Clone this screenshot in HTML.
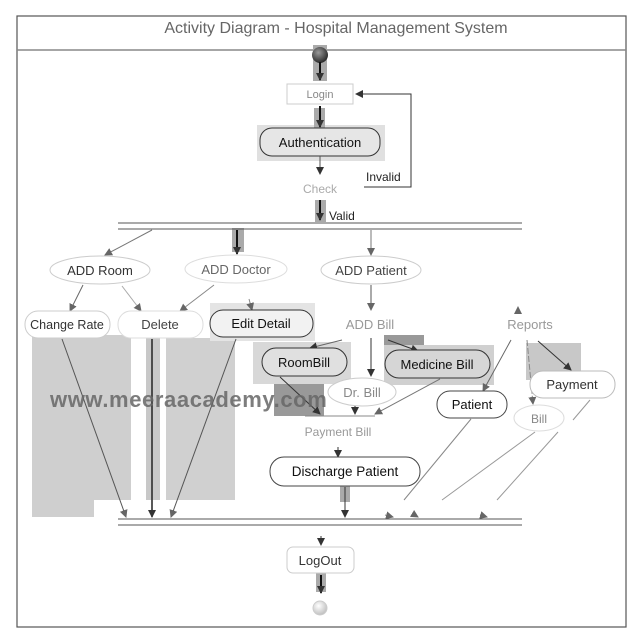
<!DOCTYPE html>
<html><head><meta charset="utf-8"><style>
html,body{margin:0;padding:0;background:#fff;}
svg{display:block;}
text{font-family:"Liberation Sans",sans-serif;}
</style></head><body>
<svg width="640" height="640" viewBox="0 0 640 640" xmlns="http://www.w3.org/2000/svg">
<defs>
<marker id="a" markerWidth="8" markerHeight="8" refX="7" refY="4" orient="auto" markerUnits="userSpaceOnUse"><path d="M0,0 L8,4 L0,8 z" fill="#333"/></marker>
<marker id="b" markerWidth="8" markerHeight="8" refX="7" refY="4" orient="auto" markerUnits="userSpaceOnUse"><path d="M0,0 L8,4 L0,8 z" fill="#666"/></marker>
<radialGradient id="g1" cx="0.4" cy="0.35" r="0.7"><stop offset="0" stop-color="#999"/><stop offset="1" stop-color="#222"/></radialGradient>
<radialGradient id="g2" cx="0.4" cy="0.35" r="0.7"><stop offset="0" stop-color="#fff"/><stop offset="1" stop-color="#bbb"/></radialGradient>
</defs>
<rect x="17" y="16" width="609" height="611" fill="#fff" stroke="#555" stroke-width="1.2"/>
<line x1="17" y1="50" x2="626" y2="50" stroke="#888" stroke-width="1.5"/>
<text x="336" y="33" font-size="16" fill="#666" text-anchor="middle" font-family="DejaVu Sans">Activity Diagram - Hospital Management System</text>

<path d="M32 335 H131 V500 H94 V517 H32 Z" fill="#cfcfcf"/>
<rect x="146" y="335" width="14" height="165" fill="#c8c8c8"/>
<rect x="166" y="338" width="69" height="162" fill="#d0d0d0"/>
<rect x="253" y="342" width="98" height="42" fill="#d8d8d8"/>
<rect x="274" y="384" width="50" height="32" fill="#999"/>
<rect x="384" y="335" width="40" height="12" fill="#999"/>
<rect x="384" y="345" width="110" height="40" fill="#d0d0d0"/>
<rect x="526" y="343" width="55" height="37" fill="#c8c8c8"/>
<rect x="210" y="303" width="105" height="38" fill="#e4e4e4"/>
<rect x="257" y="125" width="128" height="36" fill="#e0e0e0"/>
<rect x="313" y="45" width="14" height="36" fill="#aaa"/>
<rect x="314" y="108" width="11" height="22" fill="#aaa"/>
<rect x="315" y="200" width="11" height="22" fill="#aaa"/>
<rect x="232" y="228" width="12" height="24" fill="#aaa"/>
<rect x="340" y="484" width="10" height="18" fill="#aaa"/>
<rect x="316" y="572" width="10" height="20" fill="#aaa"/>

<circle cx="320" cy="55" r="8" fill="url(#g1)"/>
<line x1="320" y1="62" x2="320" y2="80" stroke="#111" stroke-width="2" marker-end="url(#a)"/>
<rect x="287" y="84" width="66" height="20" fill="#fff" stroke="#ccc"/>
<text x="320" y="98" font-size="11" fill="#888" text-anchor="middle">Login</text>
<line x1="320" y1="106" x2="320" y2="127" stroke="#111" stroke-width="2" marker-end="url(#a)"/>
<rect x="260" y="128" width="120" height="28" rx="12" fill="#e6e6e6" stroke="#333"/>
<text x="320" y="147" font-size="13" fill="#111" text-anchor="middle">Authentication</text>
<line x1="320" y1="156" x2="320" y2="174" stroke="#555" marker-end="url(#a)"/>
<text x="320" y="193" font-size="12" fill="#aaa" text-anchor="middle">Check</text>
<text x="366" y="181" font-size="12" fill="#222">Invalid</text>
<polyline points="364,187 411,187 411,94 356,94" fill="none" stroke="#333" marker-end="url(#a)"/>
<line x1="320" y1="200" x2="320" y2="220" stroke="#111" stroke-width="2" marker-end="url(#a)"/>
<text x="329" y="220" font-size="12" fill="#222">Valid</text>
<line x1="118" y1="223" x2="522" y2="223" stroke="#555"/>
<line x1="118" y1="229" x2="522" y2="229" stroke="#555"/>

<line x1="152" y1="230" x2="105" y2="255" stroke="#777" marker-end="url(#b)"/>
<line x1="237" y1="230" x2="237" y2="254" stroke="#111" stroke-width="2" marker-end="url(#a)"/>
<line x1="371" y1="230" x2="371" y2="255" stroke="#777" marker-end="url(#b)"/>

<ellipse cx="100" cy="270" rx="50" ry="14" fill="#fff" stroke="#ccc"/>
<text x="100" y="275" font-size="13" fill="#333" text-anchor="middle">ADD Room</text>
<ellipse cx="236" cy="269" rx="51" ry="14" fill="#fff" stroke="#ddd"/>
<text x="236" y="274" font-size="13" fill="#666" text-anchor="middle">ADD Doctor</text>
<ellipse cx="371" cy="270" rx="50" ry="14" fill="#fff" stroke="#ccc"/>
<text x="371" y="275" font-size="13" fill="#444" text-anchor="middle">ADD Patient</text>

<line x1="83" y1="285" x2="70" y2="311" stroke="#666" marker-end="url(#b)"/>
<line x1="122" y1="286" x2="141" y2="311" stroke="#aaa" marker-end="url(#b)"/>
<line x1="214" y1="285" x2="180" y2="311" stroke="#888" marker-end="url(#b)"/>
<line x1="249" y1="299" x2="252" y2="310" stroke="#888" marker-end="url(#b)"/>
<line x1="371" y1="285" x2="371" y2="310" stroke="#555" marker-end="url(#b)"/>
<line x1="518" y1="310" x2="518" y2="307" stroke="#888" marker-end="url(#b)"/>

<rect x="25" y="311" width="85" height="27" rx="13" fill="#fff" stroke="#ccc"/>
<text x="67" y="329" font-size="12.5" fill="#333" text-anchor="middle">Change Rate</text>
<rect x="118" y="311" width="85" height="27" rx="13" fill="#fff" stroke="#ddd"/>
<text x="160" y="329" font-size="13" fill="#444" text-anchor="middle">Delete</text>
<rect x="210" y="310" width="103" height="27" rx="13" fill="#f2f2f2" stroke="#333"/>
<text x="261" y="328" font-size="13" fill="#111" text-anchor="middle">Edit Detail</text>
<text x="370" y="329" font-size="13" fill="#999" text-anchor="middle">ADD Bill</text>
<text x="530" y="329" font-size="13" fill="#999" text-anchor="middle">Reports</text>

<line x1="342" y1="340" x2="310" y2="348" stroke="#666" marker-end="url(#a)"/>
<line x1="371" y1="338" x2="371" y2="376" stroke="#333" marker-end="url(#a)"/>
<line x1="388" y1="340" x2="418" y2="351" stroke="#333" marker-end="url(#a)"/>
<rect x="262" y="348" width="85" height="28" rx="14" fill="#e0e0e0" stroke="#333"/>
<text x="304" y="367" font-size="13" fill="#111" text-anchor="middle">RoomBill</text>
<rect x="385" y="350" width="105" height="28" rx="14" fill="#d6d6d6" stroke="#333"/>
<text x="437" y="369" font-size="13" fill="#111" text-anchor="middle">Medicine Bill</text>
<ellipse cx="362" cy="392" rx="34" ry="14" fill="#fff" stroke="#ccc"/>
<text x="362" y="397" font-size="13" fill="#888" text-anchor="middle">Dr. Bill</text>
<line x1="280" y1="377" x2="320" y2="414" stroke="#333" marker-end="url(#a)"/>
<line x1="355" y1="406" x2="355" y2="414" stroke="#333" marker-end="url(#a)"/>
<line x1="440" y1="379" x2="375" y2="414" stroke="#777" marker-end="url(#b)"/>
<line x1="305" y1="416" x2="375" y2="416" stroke="#888"/>
<text x="338" y="436" font-size="12" fill="#999" text-anchor="middle">Payment Bill</text>
<line x1="338" y1="447" x2="338" y2="457" stroke="#333" marker-end="url(#a)"/>
<rect x="270" y="457" width="150" height="29" rx="14" fill="#fff" stroke="#444"/>
<text x="345" y="476" font-size="13.5" fill="#111" text-anchor="middle">Discharge Patient</text>

<line x1="511" y1="340" x2="483" y2="391" stroke="#666" marker-end="url(#b)"/>
<line x1="527" y1="340" x2="533" y2="404" stroke="#888" stroke-dasharray="6,2" marker-end="url(#b)"/>
<line x1="538" y1="341" x2="571" y2="370" stroke="#333" marker-end="url(#a)"/>
<rect x="437" y="391" width="70" height="27" rx="13" fill="#fff" stroke="#444"/>
<text x="472" y="409" font-size="13" fill="#111" text-anchor="middle">Patient</text>
<rect x="530" y="371" width="85" height="27" rx="13" fill="#fff" stroke="#bbb"/>
<text x="572" y="389" font-size="13" fill="#333" text-anchor="middle">Payment</text>
<ellipse cx="539" cy="418" rx="25" ry="13" fill="#fff" stroke="#ddd"/>
<text x="539" y="423" font-size="12" fill="#888" text-anchor="middle">Bill</text>

<line x1="62" y1="339" x2="126" y2="517" stroke="#555" marker-end="url(#b)"/>
<line x1="152" y1="339" x2="152" y2="517" stroke="#222" stroke-width="1.5" marker-end="url(#a)"/>
<line x1="236" y1="339" x2="171" y2="517" stroke="#555" marker-end="url(#b)"/>
<line x1="345" y1="487" x2="345" y2="517" stroke="#333" marker-end="url(#a)"/>
<line x1="471" y1="419" x2="404" y2="500" stroke="#888"/>
<line x1="535" y1="432" x2="442" y2="500" stroke="#999"/>
<line x1="558" y1="432" x2="497" y2="500" stroke="#999"/>
<line x1="590" y1="400" x2="573" y2="420" stroke="#999"/>
<line x1="385" y1="515" x2="393" y2="517" stroke="#888" marker-end="url(#b)"/>
<line x1="413" y1="514" x2="418" y2="517" stroke="#888" marker-end="url(#b)"/>
<line x1="480" y1="515" x2="487" y2="517" stroke="#888" marker-end="url(#b)"/>
<line x1="118" y1="519" x2="522" y2="519" stroke="#555"/>
<line x1="118" y1="525" x2="522" y2="525" stroke="#555"/>
<line x1="321" y1="536" x2="321" y2="545" stroke="#333" marker-end="url(#a)"/>
<rect x="287" y="547" width="67" height="26" rx="6" fill="#fff" stroke="#ccc"/>
<text x="320" y="565" font-size="13" fill="#333" text-anchor="middle">LogOut</text>
<line x1="321" y1="575" x2="321" y2="593" stroke="#111" stroke-width="2" marker-end="url(#a)"/>
<circle cx="320" cy="608" r="7" fill="url(#g2)" stroke="#ccc"/>

<text x="50" y="407" font-size="22" font-weight="bold" fill="#666" fill-opacity="0.85" letter-spacing="0.6">www.meeraacademy.com</text>
</svg>
</body></html>
